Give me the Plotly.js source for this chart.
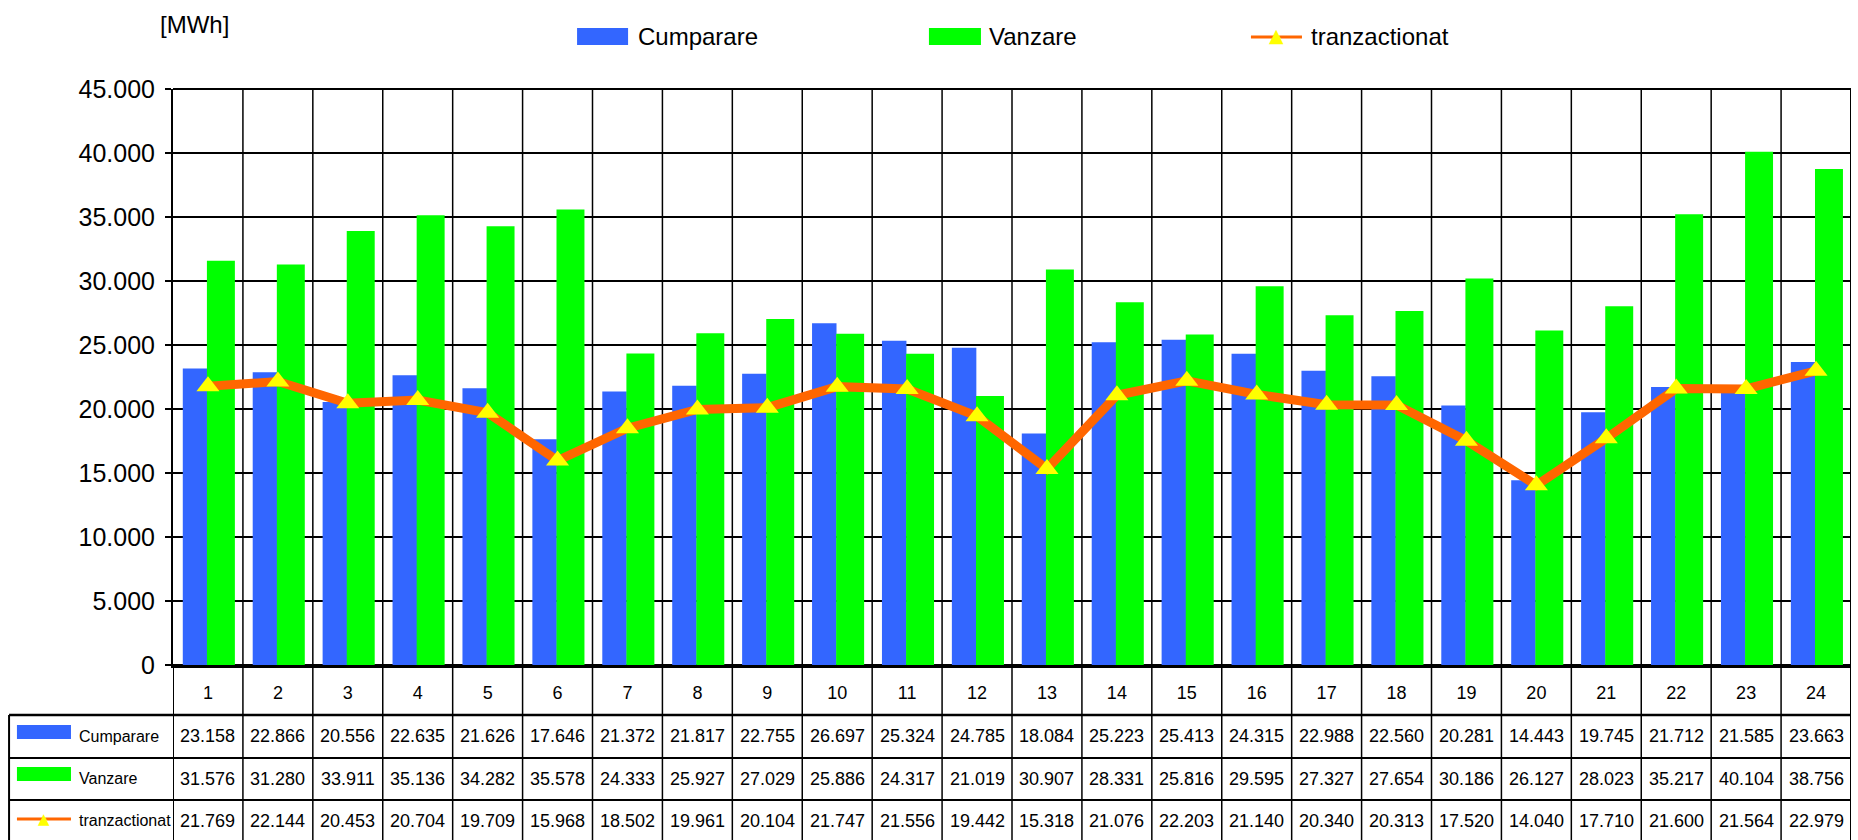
<!DOCTYPE html>
<html>
<head>
<meta charset="utf-8">
<script src="https://cdn.plot.ly/plotly-3.0.1.min.js"></script>
<style>html,body{margin:0;padding:0;background:#fff;}#chart{width:1858px;height:840px;}</style>
</head>
<body>
<div id="chart"></div>
<script>
// ---- data (MWh) ----
const hours = ['1','2','3','4','5','6','7','8','9','10','11','12','13','14','15','16','17','18','19','20','21','22','23','24'];
const cumparare = [23158, 22866, 20556, 22635, 21626, 17646, 21372, 21817, 22755, 26697, 25324, 24785, 18084, 25223, 25413, 24315, 22988, 22560, 20281, 14443, 19745, 21712, 21585, 23663];
const vanzare = [31576, 31280, 33911, 35136, 34282, 35578, 24333, 25927, 27029, 25886, 24317, 21019, 30907, 28331, 25816, 29595, 27327, 27654, 30186, 26127, 28023, 35217, 40104, 38756];
const tranzactionat = [21769, 22144, 20453, 20704, 19709, 15968, 18502, 19961, 20104, 21747, 21556, 19442, 15318, 21076, 22203, 21140, 20340, 20313, 17520, 14040, 17710, 21600, 21564, 22979];
const seriesNames = ['Cumparare', 'Vanzare', 'tranzactionat'];
const unitLabel = '[MWh]';

// ---- style ----
const FONT = '"Liberation Sans", Arial, sans-serif';
const BLUE = '#3366FF', GREEN = '#00FF00', ORANGE = '#FF6600', YELLOW = '#FFFF00';

function fmt(v) {
  const s = String(Math.round(v));
  return s.replace(/\B(?=(\d{3})+(?!\d))/g, '.');
}

const traces = [
  {type: 'bar', x: hours, y: cumparare, name: seriesNames[0], marker: {color: BLUE, line: {width: 0}},
   offset: -0.36, width: 0.35, showlegend: false},
  {type: 'bar', x: hours, y: vanzare, name: seriesNames[1], marker: {color: GREEN, line: {width: 0}},
   offset: -0.015, width: 0.4, showlegend: false},
  {type: 'scatter', mode: 'lines+markers', x: hours, y: tranzactionat, name: seriesNames[2],
   line: {color: ORANGE, width: 9}, marker: {symbol: 'triangle-up', size: 20, color: YELLOW, line: {width: 0}},
   showlegend: false, cliponaxis: false}
];

// table geometry in paper coords
const yRowTop = -0.0868, yR1 = -0.1615, yR2 = -0.2344, yBottom = -0.3038;
const xTableLeft = -0.0977;
const rowCenters = [-0.1241, -0.1979, -0.2700];
const rowValues = [cumparare, vanzare, tranzactionat];

const shapes = [];
const annotations = [];
const N = hours.length;

// vertical separators (category boundaries), extend through table
for (let i = 0; i <= N; i++) {
  shapes.push({type: 'line', xref: 'x', yref: 'paper', x0: i - 0.5, x1: i - 0.5,
    y0: (i === 0 ? 0 : 1), y1: yBottom - 0.01,
    line: {color: '#000', width: (i === 0 || i === N) ? 2 : 1.5}, layer: 'below'});
}
// top border of plot
shapes.push({type: 'line', xref: 'paper', yref: 'paper', x0: 0, x1: 1, y0: 1, y1: 1, line: {color: '#000', width: 2}});
// table horizontal lines
[yRowTop, yR1, yR2].forEach(function (yy, k) {
  shapes.push({type: 'line', xref: 'paper', yref: 'paper', x0: xTableLeft, x1: 1, y0: yy, y1: yy,
    line: {color: '#000', width: k === 0 ? 2.5 : 2}});
});
// table left border
shapes.push({type: 'line', xref: 'paper', yref: 'paper', x0: xTableLeft, x1: xTableLeft, y0: yRowTop, y1: yBottom - 0.01,
  line: {color: '#000', width: 2}});

// table cell values (x given as category index)
for (let r = 0; r < 3; r++) {
  for (let i = 0; i < N; i++) {
    annotations.push({xref: 'x', yref: 'paper', x: i, y: rowCenters[r], text: fmt(rowValues[r][i]),
      showarrow: false, xanchor: 'center', yanchor: 'middle', font: {family: FONT, size: 18, color: '#000'}});
  }
}

// table row keys
const keyX0 = -0.0930, keyX1 = -0.0608, keyTextX = -0.0570;
shapes.push({type: 'rect', xref: 'paper', yref: 'paper', x0: keyX0, x1: keyX1, y0: -0.1042, y1: -0.1285, fillcolor: BLUE, line: {width: 0}});
shapes.push({type: 'rect', xref: 'paper', yref: 'paper', x0: keyX0, x1: keyX1, y0: -0.1771, y1: -0.2014, fillcolor: GREEN, line: {width: 0}});
shapes.push({type: 'line', xref: 'paper', yref: 'paper', x0: keyX0, x1: keyX1, y0: -0.2674, y1: -0.2674, line: {color: ORANGE, width: 3}});
annotations.push({xref: 'paper', yref: 'paper', x: (keyX0 + keyX1) / 2, y: -0.2674, text: '▲', showarrow: false,
  xanchor: 'center', yanchor: 'middle', font: {family: 'DejaVu Sans', size: 15, color: YELLOW}});
for (let r = 0; r < 3; r++) {
  annotations.push({xref: 'paper', yref: 'paper', x: keyTextX, y: rowCenters[r], text: seriesNames[r], showarrow: false,
    xanchor: 'left', yanchor: 'middle', font: {family: FONT, size: 16, color: '#000'}});
}

// top legend
const legY0 = 1.1059, legY1 = 1.0764, legYc = 1.0903;
shapes.push({type: 'rect', xref: 'paper', yref: 'paper', x0: 0.2408, x1: 0.2712, y0: legY0, y1: legY1, fillcolor: BLUE, line: {width: 0}});
shapes.push({type: 'rect', xref: 'paper', yref: 'paper', x0: 0.4505, x1: 0.4815, y0: legY0, y1: legY1, fillcolor: GREEN, line: {width: 0}});
shapes.push({type: 'line', xref: 'paper', yref: 'paper', x0: 0.6424, x1: 0.6728, y0: legYc, y1: legYc, line: {color: ORANGE, width: 3}});
annotations.push({xref: 'paper', yref: 'paper', x: 0.6576, y: legYc + 0.003, text: '▲', showarrow: false,
  xanchor: 'center', yanchor: 'middle', font: {family: 'DejaVu Sans', size: 19, color: YELLOW}});
[[0.2759, 0], [0.4851, 1], [0.6770, 2]].forEach(function (p) {
  annotations.push({xref: 'paper', yref: 'paper', x: p[0], y: legYc, text: seriesNames[p[1]], showarrow: false,
    xanchor: 'left', yanchor: 'middle', font: {family: FONT, size: 24, color: '#000'}});
});
// unit label
annotations.push({xref: 'paper', yref: 'paper', x: 0.0131, y: 1.1128, text: unitLabel, showarrow: false,
  xanchor: 'center', yanchor: 'middle', font: {family: FONT, size: 24, color: '#000'}});

const layout = {
  width: 1858, height: 840,
  margin: {l: 173, r: 7, t: 89, b: 175, pad: 0},
  paper_bgcolor: '#fff', plot_bgcolor: '#fff',
  font: {family: FONT, color: '#000'},
  separators: ',.',
  barmode: 'overlay',
  showlegend: false,
  xaxis: {type: 'category', range: [-0.5, N - 0.5], showgrid: false, zeroline: false,
    showline: true, linecolor: '#000', linewidth: 3, ticks: '', ticklabelstandoff: 9,
    tickfont: {family: FONT, size: 18, color: '#000'}, fixedrange: true},
  yaxis: {range: [0, 45000], dtick: 5000, tick0: 0, tickformat: ',', showgrid: true, gridcolor: '#000', gridwidth: 2,
    zeroline: true, zerolinecolor: '#000', zerolinewidth: 3,
    showline: true, linecolor: '#000', linewidth: 2, ticks: 'outside', ticklen: 6, tickwidth: 2, tickcolor: '#000',
    ticklabelstandoff: 5, tickfont: {family: FONT, size: 25, color: '#000'}, fixedrange: true},
  shapes: shapes,
  annotations: annotations
};

Plotly.newPlot('chart', traces, layout, {displayModeBar: false, staticPlot: true});
</script>
</body>
</html>
